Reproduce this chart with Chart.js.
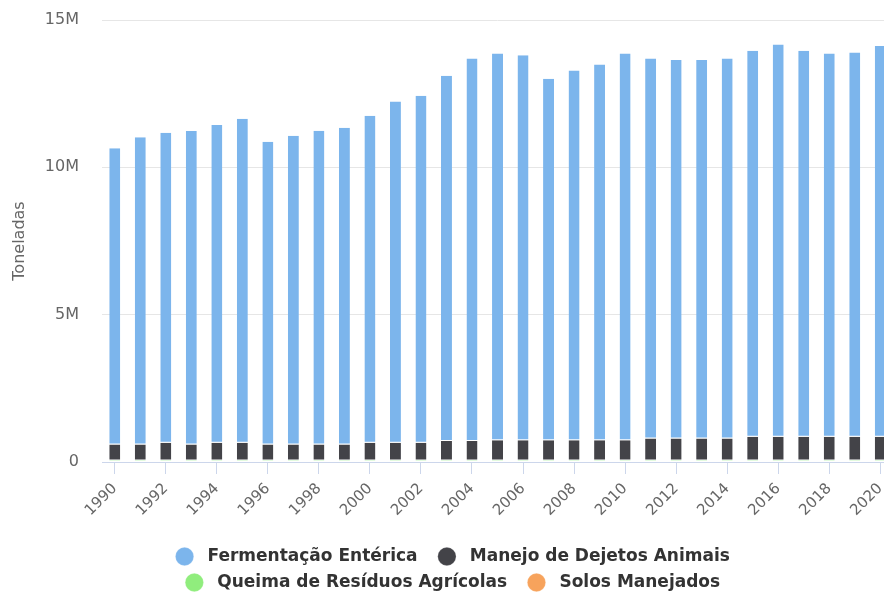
<!DOCTYPE html>
<html>
<head>
<meta charset="utf-8">
<script src="https://cdn.jsdelivr.net/npm/chart.js@4/dist/chart.umd.min.js"></script>
<style>
  html, body { margin: 0; padding: 0; background: #fff; overflow: hidden; }
  #wrap { width: 899px; height: 594px; }
</style>
</head>
<body>
<div id="wrap"><canvas id="emissoesChart"></canvas></div>
<script>
const anos = ['1990', '1991', '1992', '1993', '1994', '1995', '1996', '1997', '1998', '1999',
    '2000', '2001', '2002', '2003', '2004', '2005', '2006', '2007', '2008', '2009',
    '2010', '2011', '2012', '2013', '2014', '2015', '2016', '2017', '2018', '2019', '2020'];

// toneladas
const fermentacaoEnterica = [10060000, 10430000, 10520000, 10640000, 10790000, 11000000, 10280000, 10480000, 10650000, 10750000,
    11100000, 11580000, 11780000, 12400000, 12980000, 13120000, 13060000, 12270000, 12550000, 12750000,
    13120000, 12890000, 12840000, 12840000, 12890000, 13100000, 13310000, 13100000, 13000000, 13040000, 13260000];
const manejoDejetos = [540000, 540000, 600000, 540000, 600000, 600000, 540000, 540000, 540000, 540000,
    600000, 600000, 600000, 660000, 660000, 690000, 690000, 690000, 690000, 690000,
    690000, 750000, 750000, 750000, 750000, 810000, 810000, 810000, 810000, 810000, 810000];
const queimaResiduos = [30000, 30000, 30000, 30000, 30000, 30000, 30000, 30000, 30000, 30000,
    30000, 30000, 30000, 30000, 30000, 30000, 30000, 30000, 30000, 30000,
    30000, 30000, 30000, 30000, 30000, 30000, 30000, 30000, 30000, 30000, 30000];
const solosManejados = [20000, 20000, 20000, 20000, 20000, 20000, 20000, 20000, 20000, 20000,
    20000, 20000, 20000, 20000, 20000, 20000, 20000, 20000, 20000, 20000,
    20000, 20000, 20000, 20000, 20000, 20000, 20000, 20000, 20000, 20000, 20000];
const yTicks = [0, 5000000, 10000000, 15000000];

const fonte = 'DejaVu Sans';

function serie(label, data, color) {
    return {
        label: label,
        data: data,
        backgroundColor: color,
        borderColor: '#ffffff',
        borderWidth: { top: 0, left: 0, right: 0, bottom: 1 },
        borderSkipped: false,
        barPercentage: 0.43,
        categoryPercentage: 1
    };
}

// a primeira série fica embaixo da pilha; a legenda é invertida
new Chart(document.getElementById('emissoesChart'), {
    type: 'bar',
    data: {
        labels: anos,
        datasets: [
            serie('Solos Manejados', solosManejados, '#f7a35c'),
            serie('Queima de Resíduos Agrícolas', queimaResiduos, '#90ed7d'),
            serie('Manejo de Dejetos Animais', manejoDejetos, '#434348'),
            serie('Fermentação Entérica', fermentacaoEnterica, '#7cb5ec')
        ]
    },
    options: {
        responsive: true,
        maintainAspectRatio: false,
        animation: false,
        layout: {
            padding: { left: 7, top: 20, right: 0, bottom: -7 }
        },
        scales: {
            x: {
                stacked: true,
                afterFit: axis => {
                    axis.height = 77;
                },
                grid: {
                    offset: false,
                    drawOnChartArea: false,
                    drawTicks: true,
                    tickLength: 12,
                    color: ctx => ctx.index % 2 === 0 ? '#ccd6eb' : 'rgba(0,0,0,0)'
                },
                border: { display: true, color: '#ccd6eb', width: 1 },
                ticks: {
                    autoSkip: false,
                    minRotation: 45,
                    maxRotation: 45,
                    padding: 6,
                    color: '#666666',
                    font: { family: fonte, size: 15 },
                    callback: (val, i) => i % 2 === 0 ? anos[i] : ''
                }
            },
            y: {
                stacked: true,
                min: 0,
                max: 15000000,
                afterBuildTicks: axis => {
                    axis.ticks = yTicks.map(v => ({ value: v }));
                },
                afterFit: axis => {
                    axis.width = 95;
                },
                grid: { color: '#e6e6e6', drawTicks: true, tickLength: 20, tickColor: 'rgba(0,0,0,0)' },
                border: { display: false },
                ticks: {
                    padding: 3,
                    color: '#666666',
                    font: { family: fonte, size: 16 },
                    callback: v => v === 0 ? '0' : (v / 1000000) + 'M'
                },
                title: {
                    display: true,
                    text: 'Toneladas',
                    color: '#666666',
                    font: { family: fonte, size: 16 },
                    padding: { top: 3, bottom: 10 }
                }
            }
        },
        plugins: {
            legend: {
                position: 'bottom',
                reverse: true,
                labels: {
                    usePointStyle: true,
                    pointStyle: 'circle',
                    boxHeight: 13,
                    padding: 9,
                    color: '#333333',
                    font: { family: fonte, size: 17, weight: 'bold' },
                    // espaço extra entre os itens de cada linha, como no original
                    generateLabels: chart => Chart.defaults.plugins.legend.labels.generateLabels(chart)
                        .map(item => Object.assign(item, {
                            text: ' ' + item.text + (item.datasetIndex % 2 === 1 ? '  ' : '')
                        }))
                }
            },
            tooltip: { enabled: false }
        }
    }
});
</script>
</body>
</html>
